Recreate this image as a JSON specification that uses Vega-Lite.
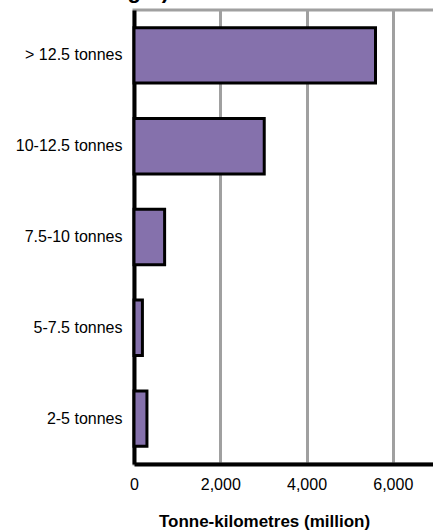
{
  "$schema": "https://vega.github.io/schema/vega-lite/v6.json",
  "autosize": "none",
  "width": 345,
  "height": 454,
  "padding": {"left": 134, "top": 10, "right": -46, "bottom": 67},
  "background": "white",
  "title": {
    "text": ["Goods moved by rigid goods vehicles, by gross vehicle", "weight)"],
    "frame": "group",
    "anchor": "start",
    "align": "right",
    "dx": 35,
    "offset": 7,
    "font": "Liberation Sans",
    "fontSize": 22,
    "fontWeight": "bold",
    "color": "black"
  },
  "data": {
    "values": [
      {"weight": "> 12.5 tonnes", "tkm": 5600},
      {"weight": "10-12.5 tonnes", "tkm": 3020},
      {"weight": "7.5-10 tonnes", "tkm": 710},
      {"weight": "5-7.5 tonnes", "tkm": 195},
      {"weight": "2-5 tonnes", "tkm": 300}
    ]
  },
  "mark": {"type": "bar", "fill": "#8571ac", "stroke": "black", "strokeWidth": 3, "strokeJoin": "miter"},
  "encoding": {
    "y": {
      "field": "weight",
      "type": "nominal",
      "sort": null,
      "scale": {"paddingInner": 0.39, "paddingOuter": 0.195},
      "axis": {
        "title": null,
        "ticks": false,
        "tickSize": 0,
        "labelPadding": 12,
        "labelFont": "Liberation Sans",
        "labelFontSize": 16,
        "labelColor": "black",
        "domainColor": "black",
        "domainWidth": 4,
        "grid": false
      }
    },
    "x": {
      "field": "tkm",
      "type": "quantitative",
      "scale": {"domain": [0, 8000], "nice": false},
      "axis": {
        "title": "Tonne-kilometres (million)",
        "values": [0, 2000, 4000, 6000],
        "format": ",d",
        "ticks": false,
        "tickSize": 0,
        "labelPadding": 12,
        "labelFont": "Liberation Sans",
        "labelFontSize": 16,
        "labelColor": "black",
        "labelFlush": false,
        "labelOverlap": false,
        "domainColor": "black",
        "domainWidth": 4,
        "grid": true,
        "gridColor": "#a0a0a0",
        "gridWidth": 3,
        "gridOpacity": 1,
        "titleFont": "Liberation Sans",
        "titleFontSize": 17,
        "titleFontWeight": "bold",
        "titleColor": "black",
        "titleX": 130,
        "titleY": 62,
        "titleBaseline": "alphabetic"
      }
    }
  },
  "config": {
    "view": {"stroke": "#a0a0a0", "strokeWidth": 3}
  }
}
